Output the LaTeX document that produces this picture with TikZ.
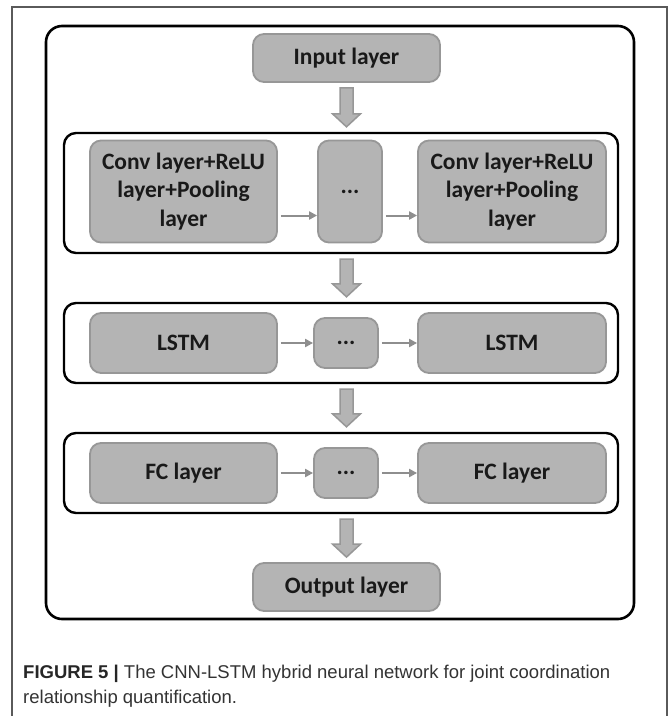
\documentclass[tikz,border=0pt]{standalone}
\usepackage{fontspec}
\setmainfont{Carlito}
\newfontfamily\capfont{Liberation Sans}
\usetikzlibrary{arrows.meta,calc}
\definecolor{boxfill}{HTML}{B4B4B4}
\definecolor{boxline}{HTML}{979797}
\definecolor{flowgray}{HTML}{8E8E8E}
\definecolor{framegray}{HTML}{5A5A5A}
\definecolor{captext}{HTML}{333333}
\newcommand\lfont{\bfseries\fontsize{23.5}{28.5}\selectfont}
\newcommand\blockarrow[2]{%
  \draw[bigarr] let \p1=(#1.south), \p2=(#2.north), \p3=(axis) in
    (\x3-6.5pt,\y1-5pt) -- (\x3+6.5pt,\y1-5pt) -- (\x3+6.5pt,\y2+18pt) --
    (\x3+14pt,\y2+18pt) -- (\x3,\y2+5pt) -- (\x3-14pt,\y2+18pt) --
    (\x3-6.5pt,\y2+18pt) -- cycle;}
\begin{document}
\begin{tikzpicture}[x=1pt,y=-1pt,
  layer/.style={draw=boxline, line width=1.8pt, fill=boxfill, rounded corners=11pt,
    font=\lfont, align=center, inner sep=0pt, text=black!90},
  group/.style={draw=black, line width=2.4pt, fill=white, rounded corners=12pt, inner sep=0pt},
  flow/.style={draw=flowgray, line width=2pt, -{Triangle[length=8pt,width=8pt]}},
  bigarr/.style={fill=boxfill, draw=boxline, line width=1.5pt, line join=miter}]
\useasboundingbox (0,0) rectangle (669,716);
\fill[white] (0,0) rectangle (669,716);
% outer frame
\coordinate (fbl) at (12,716);
\coordinate (ftl) at (12,7);
\coordinate (ftr) at (667,7);
\coordinate (fbr) at (667,716);
\draw[framegray, line width=1.3pt] (fbl) -- (ftl) -- (ftr) -- (fbr);
% inner frame
\node[draw=black, line width=2.6pt, rounded corners=16pt, minimum width=588pt,
  minimum height=593pt, inner sep=0pt] (frame) at (340,322.5) {};
\coordinate (axis) at (346.5,0);
% input
\node[layer, minimum width=187pt, minimum height=48pt] (inp) at (346.5,58) {Input layer};
% group 1
\node[group, minimum width=554pt, minimum height=120pt] (g1) at (341,193) {};
\node[layer, minimum width=187pt, minimum height=102pt] (c1) at (183.5,191.5)
  {Conv layer+ReLU\\layer+Pooling\\layer};
\node[layer, minimum width=64pt, minimum height=102pt] (d1) at (350,191.5) {...};
\node[layer, minimum width=188pt, minimum height=102pt] (c2) at (512,191.5)
  {Conv layer+ReLU\\layer+Pooling\\layer};
\draw[flow] ([xshift=3pt,yshift=-24pt]c1.east) -- ([yshift=-24pt]d1.west);
\draw[flow] ([xshift=3pt,yshift=-24pt]d1.east) -- ([yshift=-24pt]c2.west);
% group 2
\node[group, minimum width=554pt, minimum height=80pt] (g2) at (341,343) {};
\node[layer, minimum width=187pt, minimum height=60pt] (l1) at (183.5,343) {LSTM};
\node[layer, minimum width=64pt, minimum height=50pt] (d2) at (346,343) {...};
\node[layer, minimum width=188pt, minimum height=60pt] (l2) at (512,343) {LSTM};
\draw[flow] ([xshift=3pt]l1.east) -- (d2.west);
\draw[flow] ([xshift=3pt]d2.east) -- (l2.west);
% group 3
\node[group, minimum width=554pt, minimum height=80pt] (g3) at (341,473) {};
\node[layer, minimum width=187pt, minimum height=60pt] (f1) at (183.5,473) {FC layer};
\node[layer, minimum width=64pt, minimum height=50pt] (d3) at (346,473) {...};
\node[layer, minimum width=188pt, minimum height=60pt] (f2) at (512,473) {FC layer};
\draw[flow] ([xshift=3pt]f1.east) -- (d3.west);
\draw[flow] ([xshift=3pt]d3.east) -- (f2.west);
% output
\node[layer, minimum width=187pt, minimum height=48pt] (out) at (346.5,587) {Output layer};
% block arrows
\blockarrow{inp}{g1}
\blockarrow{g1}{g2}
\blockarrow{g2}{g3}
\blockarrow{g3}{out}
% caption
\node[anchor=base west, inner sep=0pt, font=\capfont\fontsize{18.5}{25}\selectfont, text=captext]
  (cap1) at (23,678) {\textbf{\color{black!85}FIGURE 5 |} The CNN-LSTM hybrid neural network for joint coordination};
\node[anchor=base west, inner sep=0pt, font=\capfont\fontsize{18.5}{25}\selectfont, text=captext]
  (cap2) at (23,703) {relationship quantification.};
\end{tikzpicture}
\end{document}
